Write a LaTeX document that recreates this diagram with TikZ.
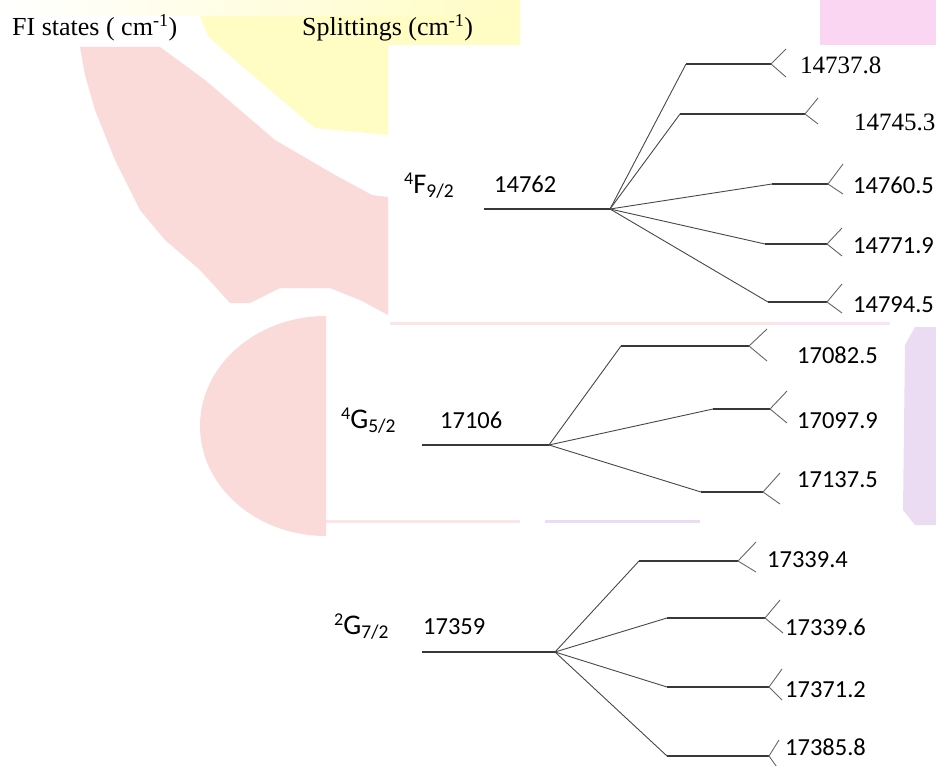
\documentclass[tikz,border=0pt]{standalone}
\usepackage{fontspec}
\setmainfont{Liberation Serif}
\newfontfamily\calib{Carlito}
\definecolor{wmY}{RGB}{255,252,196}
\definecolor{wmP}{RGB}{251,218,218}
\definecolor{wmM}{RGB}{250,214,243}
\definecolor{wmV}{RGB}{235,220,244}
\newcommand\Branch[6]{%
  \coordinate (#1k) at (#3);
  \coordinate (#1t) at (#4);
  \coordinate (#1u) at (#5);
  \coordinate (#1d) at (#6);
  \draw[br] (#2) -- (#1k);
  \draw[lvl] (#1k) -- (#1t);
  \draw[tick] (#1u) -- (#1t) -- (#1d);}
\newcommand\Term[3]{{\fontsize{18}{18}\selectfont\raisebox{9pt}{#1}}{\fontsize{28.5}{28}\selectfont #2}{\fontsize{19.5}{19}\selectfont\raisebox{-4.5pt}{#3}}}
\begin{document}
\begin{tikzpicture}[x=1pt,y=-1pt,
  lvl/.style={draw=black!78, line width=1.3pt},
  br/.style={draw=black!72, line width=0.9pt},
  tick/.style={draw=black!60, line width=0.9pt},
  tnum/.style={anchor=base west, inner sep=0, font=\fontsize{25}{25}\selectfont},
  cnum/.style={anchor=base west, inner sep=0, font=\calib\fontsize{24.5}{25}\selectfont},
  term/.style={anchor=base west, inner sep=0, font=\calib},
  hdr/.style={anchor=base west, inner sep=0, font=\fontsize{26}{26}\selectfont},
]
\useasboundingbox (0,0) rectangle (936,765);
% ---- watermark background ----
\shade[left color=white, right color=wmY] (0,0) rectangle (520,16);
\fill[wmY] (200,16) -- (520,16) -- (520,45) -- (388,45) -- (388,135) -- (315,128) -- (270,90) -- (235,60) -- (208,36) -- cycle;
\fill[wmP] (80,47) -- (160,47) -- (205,80) -- (275,140) -- (335,175) -- (372,195) -- (388,197) -- (388,315) -- (360,300) -- (330,288) -- (280,288) -- (250,303) -- (230,303) -- (200,270) -- (165,240) -- (140,210) -- (115,160) -- (95,110) -- (85,75) -- cycle;
\begin{scope}
  \clip (190,312) rectangle (326,540);
  \fill[wmP] (326,426) ellipse [x radius=126, y radius=110];
\end{scope}
\fill[wmM] (820,0) rectangle (936,45);
\fill[wmV] (936,327) -- (915,327) -- (905,345) -- (903,510) -- (915,525) -- (936,525) -- cycle;
\fill[wmP!70] (390,322) rectangle (780,325);
\fill[wmM!70] (780,322) rectangle (890,325);
\fill[wmP!70] (326,520) rectangle (520,523);
\fill[wmV] (545,520) rectangle (700,523);
% ---- headers ----
\node[hdr] (h1) at (12,36) {FI states ( cm\textsuperscript{-1})};
\node[hdr] (h2) at (302,36) {Splittings (cm\textsuperscript{-1})};
% ---- 4F9/2 ----
\node[term] (tF) at (404,193) {\Term{4}{F}{9/2}};
\node[cnum] (vF) at (494,192) {14762};
\coordinate (F0) at (484,209);
\coordinate (FB) at (610,209);
\draw[lvl] (F0) -- (FB);
\Branch{A1}{FB}{686,64}{771,64}{786,49}{786,77}
\Branch{A2}{FB}{680,114}{805,114}{818,98}{818,124}
\Branch{A3}{FB}{772,184}{828,184}{843,164}{843,194}
\Branch{A4}{FB}{765,244}{827,244}{842,228}{842,256}
\Branch{A5}{FB}{768,302}{827,302}{842,284}{842,313}
\node[tnum] (lA1) at (800,74) {14737.8};
\node[tnum] (lA2) at (854,130) {14745.3};
\node[cnum] (lA3) at (853,193) {14760.5};
\node[cnum] (lA4) at (853,253) {14771.9};
\node[cnum] (lA5) at (853,312) {14794.5};
% ---- 4G5/2 ----
\node[term] (tG) at (341,428) {\Term{4}{G}{5/2}};
\node[cnum] (vG) at (440,428) {17106};
\coordinate (G0) at (422,445);
\coordinate (GB) at (549,445);
\draw[lvl] (G0) -- (GB);
\Branch{B1}{GB}{621,346}{749,346}{767,329}{767,361}
\Branch{B2}{GB}{713,409}{770,409}{787,391}{787,423}
\Branch{B3}{GB}{701,492}{763,492}{780,473}{780,504}
\node[cnum] (lB1) at (797,363) {17082.5};
\node[cnum] (lB2) at (797,428) {17097.9};
\node[cnum] (lB3) at (797,487) {17137.5};
% ---- 2G7/2 ----
\node[term] (tH) at (334,634) {\Term{2}{G}{7/2}};
\node[cnum] (vH) at (423,634) {17359};
\coordinate (H0) at (422,652);
\coordinate (HB) at (555,652);
\draw[lvl] (H0) -- (HB);
\Branch{C1}{HB}{639,561}{738,561}{756,542}{756,572}
\Branch{C2}{HB}{667,618}{765,618}{780,600}{783,633}
\Branch{C3}{HB}{667,687}{769,687}{782,669}{782,700}
\Branch{C4}{HB}{667,756}{769,756}{779,740}{779,770}
\node[cnum] (lC1) at (767,567) {17339.4};
\node[cnum] (lC2) at (785,635) {17339.6};
\node[cnum] (lC3) at (785,697) {17371.2};
\node[cnum] (lC4) at (785,755) {17385.8};
\end{tikzpicture}
\end{document}
